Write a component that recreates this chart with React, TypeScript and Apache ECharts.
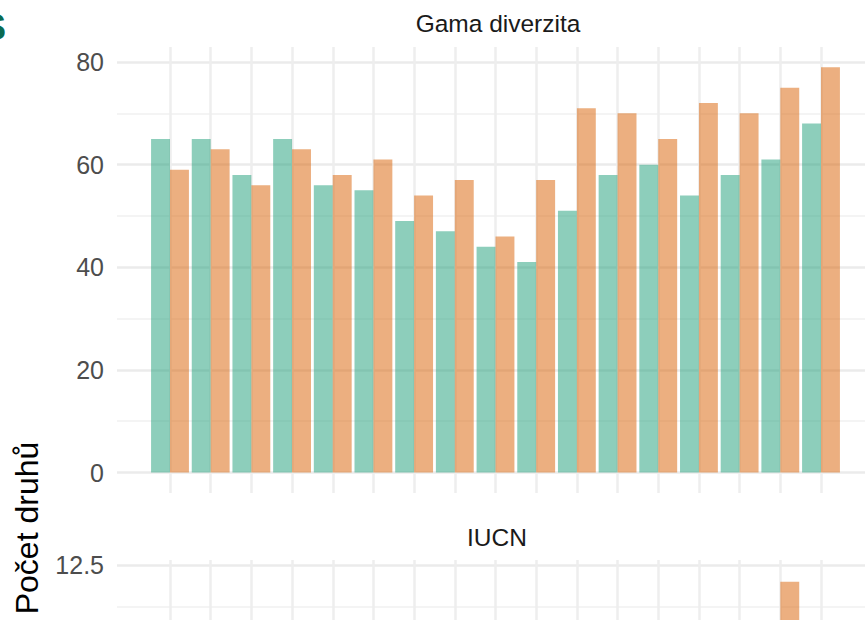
import React, { useEffect, useRef } from "react";
import * as echarts from "echarts";

// x categories (labels are cropped out of the reference)
const categories = ["1", "2", "3", "4", "5", "6", "7", "8", "9", "10", "11", "12", "13", "14", "15", "16", "17"];
const seriesNames = ["A", "B"];

// Panel "Gama diverzita"
const gamaGreen = [65, 65, 58, 65, 56, 55, 49, 47, 44, 41, 51, 58, 60, 54, 58, 61, 68];
const gamaOrange = [59, 63, 56, 63, 58, 61, 54, 57, 46, 57, 71, 70, 65, 72, 70, 75, 79];
const gamaTicks = [0, 20, 40, 60, 80];

// Panel "IUCN" (only the top strip is visible; hidden values left null)
const iucnGreen: (number | null)[] = [null, null, null, null, null, null, null, null, null, null, null, null, null, null, null, null, null];
const iucnOrange: (number | null)[] = [null, null, null, null, null, null, null, null, null, null, null, null, null, null, null, 12, null];
const iucnTicks = [10, 12.5];

const panelTitles = ["Gama diverzita", "IUCN"];
const yTitle = "Počet druhů";

const FONT = "'Liberation Sans', Arial, sans-serif";
const GREEN = "rgba(27,158,119,0.5)";
const ORANGE = "rgba(217,95,2,0.5)";

export default function App() {
  const ref = useRef<HTMLDivElement>(null);
  useEffect(() => {
    if (!ref.current) return;
    const chart = echarts.init(ref.current, null, { renderer: "svg" });

    const hidden = { show: false };
    const panelY = (min: number, max: number, interval: number, fmt?: (v: number) => string, showMin = true) => ({
      type: "value",
      min,
      max,
      interval,
      axisLine: hidden,
      axisTick: hidden,
      axisLabel: {
        color: "#4d4d4d",
        fontSize: 25,
        fontFamily: FONT,
        margin: 13,
        formatter: fmt,
        showMinLabel: showMin,
      },
      splitLine: { show: true, lineStyle: { color: "#ebebeb", width: 2.5 } },
      minorTick: { show: false, splitNumber: 2 },
      minorSplitLine: { show: true, lineStyle: { color: "#f4f4f4", width: 2 } },
    });
    const hiddenY = (min: number, max: number) => ({
      type: "value",
      min,
      max,
      show: false,
      splitLine: hidden,
    });
    const vertX = {
      type: "category",
      data: categories,
      boundaryGap: false,
      axisLine: hidden,
      axisTick: hidden,
      axisLabel: { show: false, interval: 0 },
      splitLine: { show: true, interval: 0, lineStyle: { color: "#eeeeee", width: 2.5 } },
    };
    const barX = {
      type: "category",
      data: categories,
      show: false,
      splitLine: hidden,
    };
    const emptyX = { type: "category", data: [""], show: false, splitLine: hidden };
    const g = (o: any) => ({ ...o, outerBoundsMode: "none", containLabel: false });

    const option: any = {
      animation: false,
      grid: [
        g({ left: 117, right: -11, top: 62, bottom: 147.5 }),
        g({ left: 170, right: 44, top: 47, bottom: 127 }),
        g({ left: 149.65, right: 23.65, top: 62, bottom: 147.5 }),
        g({ left: 117, right: -11, top: 565, bottom: -29 }),
        g({ left: 170, right: 44, top: 560, bottom: -40 }),
        g({ left: 149.65, right: 23.65, top: 565, bottom: -29 }),
      ],
      xAxis: [
        { ...emptyX, gridIndex: 0 },
        { ...vertX, gridIndex: 1 },
        { ...barX, gridIndex: 2 },
        { ...emptyX, gridIndex: 3 },
        { ...vertX, gridIndex: 4 },
        { ...barX, gridIndex: 5 },
      ],
      yAxis: [
        { ...panelY(gamaTicks[0], gamaTicks[gamaTicks.length - 1], gamaTicks[1] - gamaTicks[0]), gridIndex: 0 },
        { ...hiddenY(0, 1), gridIndex: 1 },
        { ...hiddenY(gamaTicks[0], gamaTicks[gamaTicks.length - 1]), gridIndex: 2 },
        {
          ...panelY(
            iucnTicks[0],
            iucnTicks[iucnTicks.length - 1],
            iucnTicks[1] - iucnTicks[0],
            (v: number) => v.toFixed(1),
            false
          ),
          gridIndex: 3,
        },
        { ...hiddenY(0, 1), gridIndex: 4 },
        { ...hiddenY(iucnTicks[0], iucnTicks[iucnTicks.length - 1]), gridIndex: 5 },
      ],
      series: [
        {
          type: "bar",
          name: seriesNames[0],
          xAxisIndex: 2,
          yAxisIndex: 2,
          data: gamaGreen,
          barGap: "0%",
          barCategoryGap: "7%",
          itemStyle: { color: GREEN },
        },
        {
          type: "bar",
          name: seriesNames[1],
          xAxisIndex: 2,
          yAxisIndex: 2,
          data: gamaOrange,
          barGap: "0%",
          barCategoryGap: "7%",
          itemStyle: { color: ORANGE },
        },
        {
          type: "bar",
          name: seriesNames[0],
          xAxisIndex: 5,
          yAxisIndex: 5,
          data: iucnGreen,
          barGap: "0%",
          barCategoryGap: "7%",
          itemStyle: { color: GREEN },
        },
        {
          type: "bar",
          name: seriesNames[1],
          xAxisIndex: 5,
          yAxisIndex: 5,
          data: iucnOrange,
          barGap: "0%",
          barCategoryGap: "7%",
          itemStyle: { color: ORANGE },
        },
      ],
      graphic: [
        {
          type: "text",
          x: 498,
          y: 23,
          style: {
            text: panelTitles[0],
            fill: "#1a1a1a",
            font: `24.5px ${FONT}`,
            textAlign: "center",
            textVerticalAlign: "middle",
          },
        },
        {
          type: "text",
          x: 497,
          y: 537,
          style: {
            text: panelTitles[1],
            fill: "#1a1a1a",
            font: `24.5px ${FONT}`,
            textAlign: "center",
            textVerticalAlign: "middle",
          },
        },
        {
          type: "text",
          x: 27,
          y: 528,
          rotation: Math.PI / 2,
          style: {
            text: yTitle,
            fill: "#000000",
            font: `32px ${FONT}`,
            textAlign: "center",
            textVerticalAlign: "middle",
          },
        },
        {
          type: "text",
          x: 6,
          y: 27,
          style: {
            text: "S",
            fill: "#0b6b52",
            font: `bold 36px ${FONT}`,
            textAlign: "right",
            textVerticalAlign: "middle",
          },
        },
      ],
    };
    chart.setOption(option);
    return () => chart.dispose();
  }, []);
  return (
    <div
      ref={ref}
      style={{ position: "absolute", left: 0, top: 0, width: 865, height: 620, background: "#ffffff" }}
    />
  );
}
